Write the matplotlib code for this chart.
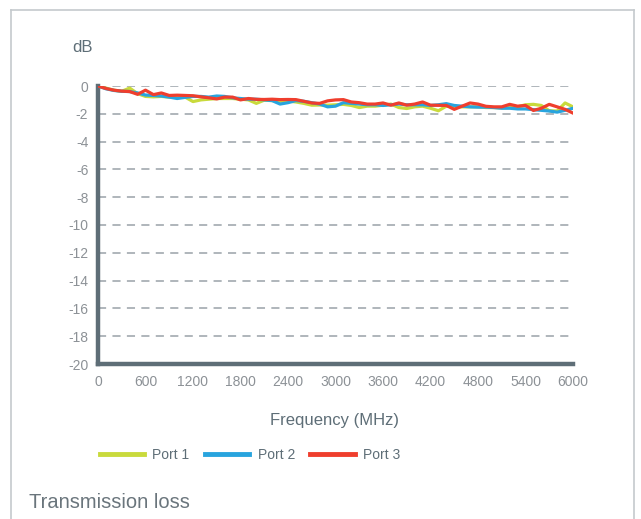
import matplotlib
matplotlib.use("Agg")
import matplotlib.pyplot as plt
from matplotlib.lines import Line2D

freq = list(range(0, 6001, 100))

port1 = [0, -0.15, -0.3, -0.38, -0.15, -0.55, -0.75, -0.78, -0.75, -0.8,
         -0.82, -0.8, -1.12, -1.0, -0.95, -0.9, -0.9, -0.9, -0.95, -1.0,
         -1.25, -1.02, -1.05, -1.1, -1.08, -1.15, -1.25, -1.38, -1.37, -1.38,
         -1.35, -1.32, -1.4, -1.55, -1.45, -1.45, -1.38, -1.3, -1.55, -1.62,
         -1.5, -1.45, -1.6, -1.78, -1.45, -1.48, -1.5, -1.5, -1.5, -1.55,
         -1.55, -1.58, -1.55, -1.5, -1.35, -1.32, -1.4, -1.78, -1.8, -1.22, -1.5]

port2 = [0, -0.2, -0.32, -0.38, -0.4, -0.5, -0.65, -0.68, -0.72, -0.8,
         -0.9, -0.82, -0.75, -0.75, -0.8, -0.72, -0.75, -0.85, -0.9, -0.95,
         -0.95, -1.0, -1.05, -1.3, -1.2, -1.05, -1.1, -1.2, -1.3, -1.5,
         -1.45, -1.2, -1.25, -1.3, -1.35, -1.35, -1.4, -1.35, -1.3, -1.35,
         -1.35, -1.35, -1.4, -1.35, -1.27, -1.4, -1.45, -1.5, -1.52, -1.52,
         -1.55, -1.6, -1.6, -1.65, -1.65, -1.7, -1.75, -1.8, -1.88, -1.75, -1.6]

port3 = [0, -0.18, -0.3, -0.37, -0.4, -0.6, -0.3, -0.62, -0.5, -0.68,
         -0.66, -0.68, -0.7, -0.78, -0.85, -0.93, -0.8, -0.8, -1.0, -0.9,
         -0.96, -0.97, -0.95, -0.98, -0.97, -0.98, -1.1, -1.22, -1.25, -1.07,
         -1.0, -0.98, -1.15, -1.2, -1.3, -1.3, -1.22, -1.38, -1.22, -1.38,
         -1.3, -1.15, -1.38, -1.39, -1.4, -1.68, -1.45, -1.22, -1.3, -1.46,
         -1.5, -1.5, -1.32, -1.45, -1.4, -1.76, -1.6, -1.32, -1.5, -1.68, -1.95]

series_names = ["Port 1", "Port 2", "Port 3"]
colors = ["#c9da3c", "#28a4de", "#ef3e2d"]
xticks = [0, 600, 1200, 1800, 2400, 3000, 3600, 4200, 4800, 5400, 6000]
yticks = list(range(0, -21, -2))

plt.rcParams['font.family'] = ['Liberation Sans', 'DejaVu Sans']

W, H = 641, 519
fig = plt.figure(figsize=(W / 100, H / 100), dpi=100)
fig.patch.set_facecolor("white")

# outer frame (open at the bottom)
border = "#c5cacd"
fig.add_artist(Line2D([11 / W, 11 / W], [0, 1 - 10 / H], color=border, lw=1.2, transform=fig.transFigure))
fig.add_artist(Line2D([634 / W, 634 / W], [0, 1 - 10 / H], color=border, lw=1.2, transform=fig.transFigure))
fig.add_artist(Line2D([11 / W, 634 / W], [1 - 10 / H, 1 - 10 / H], color=border, lw=1.2, transform=fig.transFigure))

ax = fig.add_axes([98 / W, 1 - 364 / H, 475 / W, 278 / H])
ax.set_xlim(0, 6000)
ax.set_ylim(-20, 0)

for y in yticks[:-1]:
    ax.axhline(y, color="#a9b0b5", lw=1.3, ls=(0, (4.5, 3.5)), zorder=1)

for vals, c, n in zip([port1, port2, port3], colors, series_names):
    ax.plot(freq, vals, color=c, lw=2.3, label=n, zorder=3, solid_joinstyle="round")

spine_c = "#5e6e77"
for s in ["top", "right"]:
    ax.spines[s].set_visible(False)
for s in ["left", "bottom"]:
    ax.spines[s].set_color(spine_c)
    ax.spines[s].set_linewidth(3.2)

ax.set_xticks(xticks)
ax.set_xticklabels([str(t) for t in xticks])
ax.set_yticks(yticks)
ax.set_yticklabels([str(t) for t in yticks])
ax.tick_params(axis="both", length=0, colors="#8c9196", labelsize=10)
ax.tick_params(axis="y", pad=7)
ax.tick_params(axis="x", pad=8)

fig.text(72 / W, 1 - 48 / H, "dB", fontsize=12, color="#5e6e77", va="center", ha="left")
fig.text(334 / W, 1 - 421 / H, "Frequency (MHz)", fontsize=12, color="#5e6e77", va="center", ha="center")
fig.text(29 / W, 1 - 502 / H, "Transmission loss", fontsize=14.5, color="#6a757c", va="center", ha="left")

handles = [Line2D([0], [0], color=c, lw=3.5) for c in colors]
fig.legend(handles, series_names, loc="center", bbox_to_anchor=(250 / W, 1 - 455 / H),
           ncol=3, frameon=False, fontsize=10, handlelength=3.2, handletextpad=0.6,
           columnspacing=1.1, labelcolor="#5e6e77")

fig.savefig("out.png", dpi=100, facecolor="white")
